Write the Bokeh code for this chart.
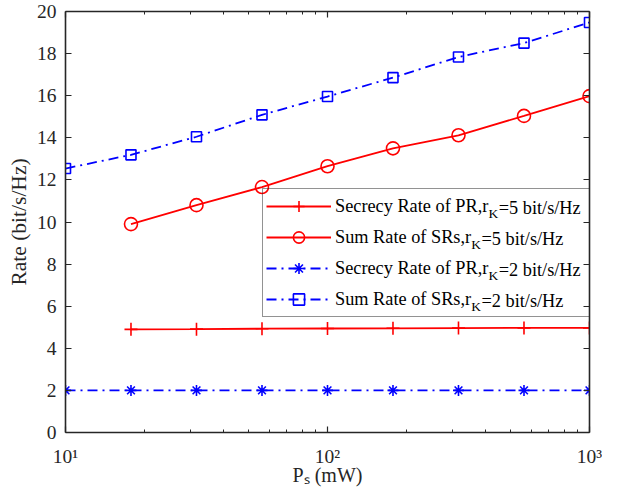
from bokeh.plotting import figure
from bokeh.models import Range1d, FixedTicker, LinearAxis, LogAxis, Legend, LegendItem, Label
from bokeh.embed import file_html
from bokeh.resources import INLINE

# ---------------- data ----------------
ps_mw = [10, 17.78, 31.62, 56.23, 100, 177.8, 316.2, 562.3, 1000]
ps_mw_rk5 = [17.78, 31.62, 56.23, 100, 177.8, 316.2, 562.3, 1000]
secrecy_rk5 = [4.90, 4.91, 4.93, 4.94, 4.95, 4.96, 4.97, 4.97]
sum_rate_rk5 = [9.90, 10.80, 11.66, 12.65, 13.50, 14.12, 15.04, 15.98]
secrecy_rk2 = [2.0, 2.0, 2.0, 2.0, 2.0, 2.0, 2.0, 2.0, 2.0]
sum_rate_rk2 = [12.54, 13.19, 14.05, 15.09, 15.96, 16.86, 17.84, 18.50, 19.48]

legend_main = ["Secrecy Rate of PR,r", "Sum Rate of SRs,r",
               "Secrecy Rate of PR,r", "Sum Rate of SRs,r"]
legend_sub = "K"
legend_tail = ["=5 bit/s/Hz", "=5 bit/s/Hz", "=2 bit/s/Hz", "=2 bit/s/Hz"]

x_ticks = [10, 100, 1000]
x_tick_labels = ["10\u00b9", "10\u00b2", "10\u00b3"]
x_minor = [20, 30, 40, 50, 60, 70, 80, 90, 200, 300, 400, 500, 600, 700, 800, 900]
y_ticks = [0, 2, 4, 6, 8, 10, 12, 14, 16, 18, 20]
y_title = "Rate (bit/s/Hz)"
x_title = "P\u209b (mW)"

# ---------------- style ----------------
FONT = "Liberation Serif"
AX = "#262626"
RED = "#ff0000"
BLUE = "#0000ff"
TICK_FS = 19.5
LAB_FS = 21.5
XLAB_FS = 20
LEG_FS = 18.3
SUB_FS = 13.5

# Times / Liberation Serif advance widths (per 1000 em)
W = {' ': 250, 'S': 556, 'e': 444, 'c': 444, 'r': 333, 'y': 500, 'R': 667, 'a': 444,
     't': 278, 'o': 500, 'f': 333, 'P': 556, ',': 250, 'u': 500, 'm': 778, 's': 389,
     'K': 722, '=': 564, '5': 500, '2': 500, 'b': 500, 'i': 278, '/': 278, 'H': 722,
     'z': 444, '(': 333, ')': 333, 'W': 944}


def tw(s, fs):
    return sum(W.get(ch, 500) for ch in s) * fs / 1000.0


FIG_W, FIG_H = 602, 488
FL, FR, FT, FB = 65, 13, 11, 56
FRAME_W = FIG_W - FL - FR
FRAME_H = FIG_H - FT - FB
X0, X1, Y0, Y1 = 10, 1000, 0, 20

p = figure(width=FIG_W, height=FIG_H, x_axis_type="log",
           x_range=Range1d(X0, X1), y_range=Range1d(Y0, Y1),
           output_backend="svg", toolbar_location=None,
           min_border_left=FL, min_border_right=FR,
           min_border_top=FT, min_border_bottom=FB)
p.grid.visible = False
p.outline_line_color = None
p.background_fill_color = "white"
p.border_fill_color = "white"

xt = FixedTicker(ticks=x_ticks, minor_ticks=x_minor)
yt = FixedTicker(ticks=y_ticks)


def style_axis(ax, show_labels):
    ax.axis_line_color = AX
    ax.axis_line_width = 1.6
    ax.major_tick_line_color = AX
    ax.major_tick_line_width = 1.2
    ax.major_tick_in = 6
    ax.major_tick_out = 0
    ax.minor_tick_line_color = AX
    ax.minor_tick_line_width = 1.0
    ax.minor_tick_in = 3
    ax.minor_tick_out = 0
    ax.major_label_text_font = FONT
    if show_labels:
        ax.major_label_text_color = AX
        ax.major_label_text_font_size = f"{TICK_FS}px"
    else:
        ax.major_label_text_color = None
        ax.major_label_text_font_size = "1px"
        ax.major_label_standoff = 0


p.xaxis.ticker = xt
p.xaxis.major_label_overrides = {t: l for t, l in zip(x_ticks, x_tick_labels)}
style_axis(p.xaxis[0], True)
p.xaxis.major_label_standoff = 13
p.xaxis.axis_label = x_title
p.xaxis.axis_label_text_font = FONT
p.xaxis.axis_label_text_font_size = f"{XLAB_FS}px"
p.xaxis.axis_label_text_font_style = "normal"
p.xaxis.axis_label_text_color = AX
p.xaxis.axis_label_standoff = -6

p.yaxis.ticker = yt
style_axis(p.yaxis[0], True)
p.yaxis.minor_tick_line_color = None
p.yaxis.major_label_standoff = 9
p.yaxis.axis_label = y_title
p.yaxis.axis_label_text_font = FONT
p.yaxis.axis_label_text_font_size = f"{LAB_FS}px"
p.yaxis.axis_label_text_font_style = "normal"
p.yaxis.axis_label_text_color = AX
p.yaxis.axis_label_standoff = 3

top = LogAxis(ticker=FixedTicker(ticks=x_ticks, minor_ticks=x_minor))
style_axis(top, False)
p.add_layout(top, "above")
right = LinearAxis(ticker=FixedTicker(ticks=y_ticks))
style_axis(right, False)
right.minor_tick_line_color = None
p.add_layout(right, "right")

# ---------------- series ----------------
LW = 1.8
l1 = p.line(ps_mw_rk5, secrecy_rk5, line_color=RED, line_width=LW)
m1 = p.scatter(ps_mw_rk5, secrecy_rk5, marker="cross", size=13, line_color=RED, line_width=1.6)
l2 = p.line(ps_mw_rk5, sum_rate_rk5, line_color=RED, line_width=LW)
m2 = p.scatter(ps_mw_rk5, sum_rate_rk5, marker="circle", size=13, line_color=RED,
               fill_color=None, line_width=1.6)
DASH = "10 5 2 5"
l3 = p.line(ps_mw, secrecy_rk2, line_color=BLUE, line_width=LW, line_dash=DASH)
m3 = p.scatter(ps_mw, secrecy_rk2, marker="asterisk", size=11, line_color=BLUE, line_width=1.6)
l4 = p.line(ps_mw, sum_rate_rk2, line_color=BLUE, line_width=LW, line_dash=DASH)
m4 = p.scatter(ps_mw, sum_rate_rk2, marker="square", size=10, line_color=BLUE,
               fill_color=None, line_width=1.6)

# ---------------- legend ----------------
PAD, GW, GH, SP, STAND = 3, 65, 28, 3, 4
LEG_LEFT, LEG_BOTTOM = 197, 115   # frame-relative, px
LABEL_W = 261
legend = Legend(items=[
    LegendItem(label=legend_main[0], renderers=[l1, m1]),
    LegendItem(label=legend_main[1], renderers=[l2, m2]),
    LegendItem(label=legend_main[2], renderers=[l3, m3]),
    LegendItem(label=legend_main[3], renderers=[l4, m4]),
], location=(LEG_LEFT, LEG_BOTTOM), margin=0, padding=PAD, spacing=SP,
    glyph_width=GW, glyph_height=GH, label_height=20, label_width=LABEL_W,
    label_standoff=STAND,
    label_text_font=FONT, label_text_font_size=f"{LEG_FS}px", label_text_color="#000000",
    border_line_color=AX, border_line_width=1.5, background_fill_alpha=0.0,
    level="annotation")
p.add_layout(legend)


def px_to_x(fx):
    return 10 ** (1 + 2 * fx / FRAME_W)


def px_to_y(fy):
    return Y0 + (Y1 - Y0) * fy / FRAME_H


leg_h = 2 * PAD + 4 * GH + 3 * SP
text_x0 = LEG_LEFT + PAD + GW + STAND
for i in range(4):
    cy = LEG_BOTTOM + leg_h - PAD - GH / 2 - i * (GH + SP)
    xm = text_x0 + tw(legend_main[i], LEG_FS)
    p.add_layout(Label(x=px_to_x(xm + 0.5), y=px_to_y(cy - 6),
                       text=legend_sub, text_font=FONT, text_font_size=f"{SUB_FS}px",
                       text_baseline="middle", text_color="#000000", level="overlay"))
    xk = xm + 0.5 + tw(legend_sub, SUB_FS) + 0.5
    p.add_layout(Label(x=px_to_x(xk), y=px_to_y(cy),
                       text=legend_tail[i], text_font=FONT, text_font_size=f"{LEG_FS}px",
                       text_baseline="middle", text_color="#000000", level="overlay"))

open("out.html", "w").write(file_html(p, INLINE))
